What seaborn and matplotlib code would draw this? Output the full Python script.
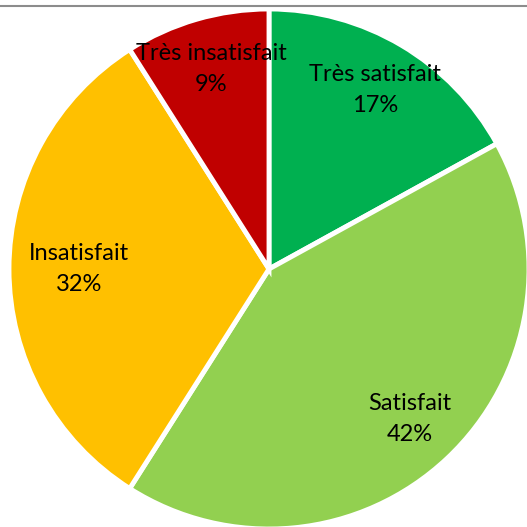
import numpy as np
import matplotlib.pyplot as plt
import seaborn as sns
from matplotlib.lines import Line2D

sns.set_style("white")
plt.rcParams['font.family'] = ['Lato', 'DejaVu Sans']

categories = ["Très satisfait", "Satisfait", "Insatisfait", "Très insatisfait"]
values = [17, 42, 32, 9]
colors = ["#00B050", "#92D050", "#FFC000", "#C00000"]
label_dist = [0.80, 0.79, 0.73, 0.80]

fig = plt.figure(figsize=(5.27, 5.27), dpi=100)
cx, cy, r = 269 / 527, 1 - 269 / 527, 260 / 527
ax = fig.add_axes([cx - r, cy - r, 2 * r, 2 * r])

labels = [f"{c}\n{v}%" for c, v in zip(categories, values)]
wedges, texts = ax.pie(values, colors=colors, startangle=90, counterclock=False,
                       labels=labels, labeldistance=0.79,
                       wedgeprops=dict(edgecolor="white", linewidth=3.5),
                       textprops=dict(fontsize=17, color="black", ha="center", va="center",
                                      linespacing=1.6))
for w, t, d in zip(wedges, texts, label_dist):
    ang = np.deg2rad((w.theta1 + w.theta2) / 2)
    t.set_position((d * np.cos(ang), d * np.sin(ang)))
    t.set_horizontalalignment("center")
ax.set_xlim(-1, 1)
ax.set_ylim(-1, 1)
ax.set_aspect("equal")
ax.axis("off")

fig.add_artist(Line2D([0, 1], [1 - 6 / 527, 1 - 6 / 527], color="#8c8c8c", linewidth=1.5))

fig.savefig("out.png", dpi=100)
